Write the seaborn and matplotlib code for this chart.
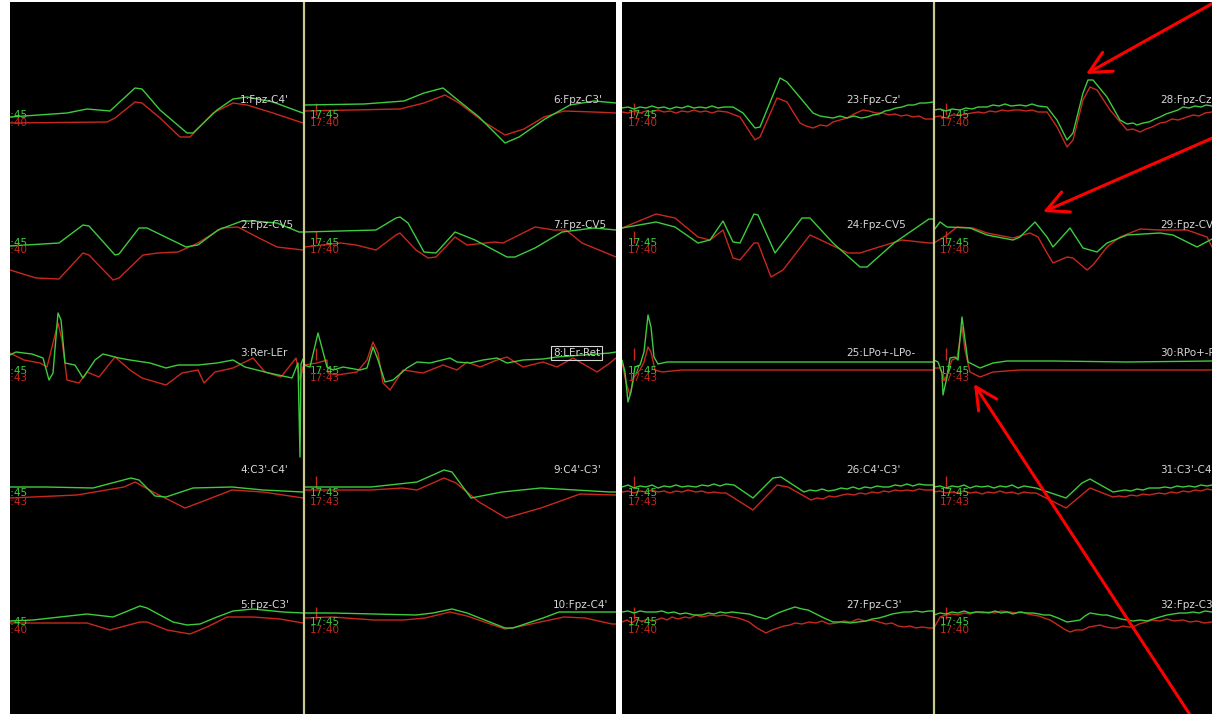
import matplotlib
matplotlib.use("Agg")
import matplotlib.pyplot as plt
import seaborn as sns

sns.set_theme(style="dark")
plt.rcParams['font.family'] = ['DejaVu Sans']

W, H = 1212, 714

# Каналы: подписи по столбцам
labels_a = ["1:Fpz-C4'", "2:Fpz-CV5", "3:Rer-LEr", "4:C3'-C4'", "5:Fpz-C3'"]
labels_b = ["6:Fpz-C3'", "7:Fpz-CV5", "8:LEr-Ret", "9:C4'-C3'", "10:Fpz-C4'"]
labels_c = ["23:Fpz-Cz'", "24:Fpz-CV5", "25:LPo+-LPo-", "26:C4'-C3'", "27:Fpz-C3'"]
labels_d = ["28:Fpz-Cz'", "29:Fpz-CV5", "30:RPo+-RPo-", "31:C3'-C4'", "32:Fpz-C3'"]
time_green = ["17:45", "17:45", "17:45", "17:45", "17:45"]
time_red = ["17:40", "17:40", "17:43", "17:43", "17:40"]

# Кривые: (время в отсчётах окна, амплитуда); green = текущая, red = эталон
a1_green = [(18, 0), (75, 4), (95, 8), (118, 6), (143, 29), (150, 28), (168, 7), (195, -16), (201, -16),
            (225, 7), (241, 18), (255, 20), (281, 15), (308, 5), (311, 4)]
a1_red = [(18, -6), (115, -5), (123, -1), (143, 15), (150, 14), (168, -1), (188, -20), (198, -20), (221, 4),
          (241, 14), (255, 12), (281, 4), (311, -6)]
a2_green = [(18, -1), (67, 2), (91, 20), (97, 19), (123, -10), (127, -9), (147, 17), (155, 17), (194, -2),
            (206, 0), (226, 15), (250, 24), (261, 24), (285, 22), (307, 13), (311, 13)]
a2_red = [(18, -25), (44, -33), (67, -34), (91, -8), (97, -10), (121, -35), (127, -33), (151, -10), (166, -8),
          (186, -7), (206, 2), (230, 17), (246, 18), (265, 8), (285, -2), (311, -5)]
a3_green = [(18, 7), (24, 10), (40, 8), (51, 4), (57, -18), (61, -11), (66, 49), (69, 42), (73, -1), (83, -3),
            (91, -16), (103, 2), (111, 8), (127, 4), (138, 2), (158, -1), (174, -6), (186, -3), (206, -3),
            (225, -1), (241, 2), (253, -5), (277, -11), (300, -16), (306, -1), (308, -95), (309, -2), (311, 3)]
a3_red = [(18, 9), (32, 2), (48, -1), (55, -5), (66, 39), (70, 22), (75, -18), (87, -21), (95, -10), (107, -15),
          (123, 5), (138, -8), (150, -16), (174, -23), (190, -11), (206, -8), (212, -21), (223, -10), (241, -6),
          (261, 4), (273, -10), (289, -15), (304, 4), (308, -18), (311, -5)]
a4_green = [(18, 3), (54, 3), (101, 2), (139, 12), (147, 10), (163, -6), (174, -7), (201, 2), (240, 3),
            (271, 0), (311, -2)]
a4_red = [(18, -8), (85, -5), (132, 3), (143, 8), (163, -3), (193, -18), (209, -12), (240, 0), (271, -2),
          (311, -8)]
a5_green = [(18, 0), (41, 1), (68, 4), (95, 7), (121, 4), (148, 15), (155, 13), (181, -1), (195, -4),
            (208, -3), (225, 4), (241, 10), (261, 12), (291, 9), (311, 8)]
a5_red = [(18, -2), (95, -2), (118, -9), (148, -1), (155, -1), (175, -9), (198, -13), (215, -6), (235, 4),
          (261, 4), (288, 2), (311, -2)]

b1_green = [(0, 12), (60, 13), (100, 16), (120, 24), (139, 29), (150, 20), (175, 0), (201, -26), (215, -20),
            (241, -2), (266, 12), (290, 16), (312, 14)]
b1_red = [(0, 6), (96, 8), (120, 14), (141, 22), (155, 14), (180, -5), (201, -18), (220, -12), (240, 0),
          (260, 6), (290, 5), (312, 4)]
b2_green = [(0, 13), (72, 15), (92, 27), (96, 28), (104, 22), (120, -7), (132, -8), (151, 13), (171, 5),
            (203, -12), (211, -12), (231, -3), (258, 13), (290, 17), (312, 15)]
b2_red = [(0, -2), (37, 2), (52, 0), (72, -5), (92, 10), (96, 12), (112, -5), (124, -13), (132, -12),
          (151, 8), (163, 0), (191, 3), (199, 2), (231, 18), (250, 15), (262, 15), (278, 2), (312, -12)]
b3_green = [(0, -3), (6, -5), (14, 29), (18, 14), (23, -5), (29, -8), (39, -5), (56, -8), (63, -6), (69, 15),
            (74, 2), (81, -20), (89, -18), (103, -6), (113, 0), (126, -1), (146, 4), (153, 0), (166, -1),
            (179, 2), (193, 4), (203, -1), (219, 2), (239, 3), (253, 5), (306, 9), (312, 10)]
b3_red = [(0, -3), (13, -1), (23, 2), (24, -11), (33, -13), (53, -10), (63, 2), (69, 20), (74, 9), (79, -21),
          (86, -28), (99, -8), (119, -11), (139, -3), (153, -8), (163, 0), (176, -5), (193, 2), (203, 5),
          (219, -5), (239, 0), (253, -5), (269, 4), (293, -10), (306, -1), (312, 4)]
b4_green = [(0, 3), (67, 3), (113, 8), (140, 20), (148, 18), (167, -8), (198, -2), (237, 2), (306, -2), (312, -2)]
b4_red = [(0, 0), (67, 0), (98, 2), (113, 0), (140, 12), (152, 7), (175, -12), (202, -28), (237, -18),
          (276, -4), (312, -5)]
b5_green = [(0, 8), (28, 8), (112, 6), (129, 8), (148, 12), (163, 8), (201, -7), (209, -7), (239, 3),
            (255, 9), (306, 9), (312, 9)]
b5_red = [(0, 3), (28, 4), (70, 1), (100, 1), (121, 3), (146, 9), (163, 5), (201, -8), (213, -6), (260, 4),
          (281, 3), (308, -3), (312, -3)]

c1_green = [(0, 9), (6, 10), (12, 8), (18, 10), (24, 9), (30, 11), (36, 9), (42, 10), (48, 8), (54, 10),
            (60, 9), (66, 11), (72, 9), (78, 10), (84, 9), (90, 11), (96, 9), (102, 10), (111, 10), (121, 4),
            (133, -11), (138, -10), (158, 39), (165, 35), (191, 4), (198, 1), (204, 0), (211, -1), (218, 1),
            (225, -1), (232, 1), (239, -1), (245, 0), (251, 2), (257, 3), (263, 6), (268, 7), (274, 9),
            (280, 10), (286, 12), (292, 12), (298, 14), (304, 14), (311, 15)]
c1_red = [(0, 5), (6, 4), (12, 6), (18, 4), (24, 6), (30, 5), (36, 7), (42, 5), (48, 6), (54, 4), (60, 6),
          (66, 5), (72, 7), (78, 5), (84, 6), (90, 4), (96, 6), (105, 5), (118, 0), (133, -23), (138, -20),
          (155, 19), (165, 15), (178, -6), (184, -9), (191, -11), (198, -8), (205, -9), (211, -5), (218, -3),
          (225, -1), (232, 3), (241, 7), (247, 6), (254, 4), (261, 4), (267, 2), (273, 3), (279, 1), (285, 2),
          (291, 0), (297, 1), (303, -2), (311, -2)]
c2_green = [(0, 17), (34, 23), (53, 18), (76, 2), (88, 5), (101, 24), (111, 3), (118, 2), (132, 31),
            (136, 30), (153, -8), (180, 27), (188, 27), (211, 2), (238, -22), (245, -22), (272, 2),
            (307, 26), (311, 26)]
c2_red = [(0, 17), (34, 31), (53, 27), (76, 8), (88, 5), (101, 15), (111, -13), (118, -15), (132, 2),
          (136, 2), (149, -32), (161, -25), (188, 10), (203, 3), (226, -8), (238, -8), (257, -2), (280, 5),
          (307, 2), (311, 2)]
c3_green = [(0, 2), (3, -10), (6, -40), (9, -30), (13, -5), (18, -3), (22, 10), (26, 47), (29, 35), (32, 5),
            (36, -2), (45, 0), (311, 0)]
c3_red = [(0, 0), (4, -20), (8, -33), (12, -15), (18, -8), (22, 0), (26, 15), (29, 10), (33, -8), (40, -10),
          (60, -8), (311, -8)]
c4_green = [(0, 3), (6, 5), (12, 2), (18, 4), (24, 3), (30, 5), (36, 2), (42, 4), (48, 3), (54, 5), (60, 3),
            (66, 4), (74, 3), (80, 5), (86, 4), (92, 6), (98, 4), (104, 6), (112, 5), (131, -8), (151, 12),
            (159, 13), (182, -2), (188, 0), (194, -1), (200, 1), (206, -1), (213, 0), (219, 2), (225, 1),
            (231, 3), (237, 1), (243, 3), (249, 2), (255, 4), (261, 3), (267, 3), (273, 5), (279, 4), (285, 6),
            (291, 4), (297, 6), (303, 5), (311, 5)]
c4_red = [(0, -2), (6, -1), (12, -3), (18, -1), (24, -2), (30, 0), (36, -2), (42, -1), (48, -3), (54, -1),
          (60, -2), (66, 0), (74, -2), (80, -1), (86, -3), (92, -2), (98, -3), (104, -3), (131, -20), (155, 5),
          (166, 3), (189, -10), (195, -8), (201, -9), (207, -6), (213, -7), (220, -5), (226, -4), (232, -5),
          (238, -3), (244, -4), (250, -2), (256, -3), (262, -1), (267, -2), (273, 0), (279, -1), (285, 0),
          (291, -1), (297, 1), (303, 0), (311, 0)]
c5_green = [(0, 9), (6, 10), (12, 8), (18, 10), (24, 9), (34, 9), (40, 10), (46, 8), (52, 9), (58, 7), (64, 8),
            (72, 6), (80, 6), (86, 8), (92, 7), (98, 9), (104, 8), (110, 9), (118, 8), (127, 7), (136, 4),
            (144, 2), (150, 5), (156, 8), (164, 11), (173, 14), (180, 12), (186, 11), (194, 7), (202, 3),
            (211, -1), (220, -1), (228, -2), (236, -1), (244, 0), (250, 2), (257, 3), (264, 5), (270, 7),
            (276, 8), (282, 9), (288, 9), (294, 10), (300, 9), (307, 10), (311, 10)]
c5_red = [(0, -1), (5, 1), (10, -2), (15, 2), (20, -1), (25, 2), (30, 0), (34, 1), (40, 3), (45, 1), (50, 4),
          (56, 2), (63, 4), (68, 3), (74, 6), (80, 4), (89, 6), (95, 5), (102, 6), (110, 4), (116, 3), (122, 1),
          (127, -1), (135, -7), (144, -12), (150, -9), (156, -7), (162, -5), (168, -4), (173, -2), (180, -3),
          (187, -1), (194, -2), (200, 0), (207, -3), (215, -2), (222, 0), (229, -1), (236, 2), (243, 0),
          (250, 1), (257, -1), (264, -3), (270, -2), (276, -5), (282, -6), (288, -5), (294, -7), (300, -6),
          (307, -7), (311, -7)]

d1_green = [(0, 7), (6, 8), (12, 6), (18, 8), (26, 7), (32, 9), (38, 8), (44, 10), (53, 10), (59, 12), (65, 11),
            (71, 13), (77, 11), (86, 12), (92, 11), (98, 13), (104, 11), (113, 10), (123, -3), (133, -23),
            (139, -16), (149, 24), (154, 37), (159, 37), (173, 20), (186, -3), (193, -7), (199, -6), (203, -8),
            (209, -6), (215, -5), (221, -2), (226, 0), (232, 3), (238, 5), (244, 7), (249, 10), (255, 9),
            (261, 11), (267, 10), (272, 12), (278, 11)]
d1_red = [(0, 0), (6, 1), (12, -1), (18, 2), (26, 2), (32, 3), (38, 4), (44, 5), (50, 4), (56, 6), (62, 5),
          (68, 7), (74, 6), (80, 7), (86, 7), (92, 6), (98, 7), (104, 5), (113, 5), (123, -10), (133, -30),
          (139, -23), (149, 17), (156, 30), (163, 27), (176, 7), (193, -13), (199, -12), (206, -15), (212, -12),
          (218, -10), (226, -6), (232, -5), (238, -2), (244, -3), (253, 0), (259, 2), (265, 1), (271, 4),
          (278, 5)]
d2_green = [(0, 15), (6, 23), (13, 18), (36, 17), (53, 10), (79, 5), (86, 8), (101, 23), (113, 8), (119, -2),
            (136, 17), (149, -3), (163, -7), (173, 2), (193, 10), (226, 12), (239, 10), (263, -2), (278, 6)]
d2_red = [(0, 2), (13, 10), (23, 18), (39, 17), (53, 12), (79, 7), (96, 12), (104, 8), (113, -8), (119, -18),
          (133, -12), (139, -13), (153, -25), (159, -20), (173, -2), (186, 8), (206, 16), (226, 15),
          (253, 15), (273, 8), (278, -2)]
d3_green = [(0, 2), (4, 0), (8, -11), (9, -33), (13, -15), (16, 4), (21, 5), (24, 2), (28, 45), (31, 22),
            (34, 0), (46, -6), (59, -1), (73, 1), (119, 1), (193, 0), (278, 1)]
d3_red = [(0, -6), (6, -6), (11, -18), (18, 2), (23, 4), (28, 35), (31, 12), (36, -10), (46, -15), (59, -10),
          (86, -8), (278, -8)]
d4_green = [(0, 3), (6, 4), (12, 2), (18, 4), (24, 3), (30, 5), (36, 2), (42, 4), (48, 3), (54, 4), (60, 2),
            (66, 4), (72, 3), (78, 5), (84, 2), (90, 4), (96, 3), (102, 2), (132, -8), (148, 7), (156, 11),
            (179, -2), (185, -1), (191, 0), (197, -1), (203, 1), (209, 0), (215, 2), (225, 2), (231, 3),
            (237, 2), (243, 4), (249, 3), (255, 4), (261, 3), (267, 5), (273, 4), (278, 5)]
d4_red = [(0, -2), (6, -1), (12, -3), (18, -2), (24, -3), (30, -1), (36, -3), (42, -2), (48, -4), (54, -2),
          (60, -3), (66, -1), (72, -3), (78, -2), (84, -4), (90, -2), (96, -3), (102, -3), (132, -18), (156, 2),
          (179, -7), (185, -6), (191, -7), (197, -5), (203, -6), (209, -4), (215, -5), (225, -3), (231, -4),
          (237, -2), (243, -3), (249, -1), (255, -2), (261, 0), (267, -1), (273, 1), (278, 0)]
d5_green = [(0, 6), (6, 8), (12, 7), (18, 9), (24, 8), (30, 10), (36, 8), (42, 9), (49, 9), (55, 8), (61, 10),
            (67, 8), (73, 9), (79, 7), (85, 9), (92, 8), (99, 8), (105, 7), (110, 6), (116, 6), (124, 3),
            (133, -1), (140, 0), (146, 1), (151, 5), (156, 8), (162, 7), (168, 6), (173, 6), (180, 4), (187, 2),
            (193, 1), (199, 0), (206, 1), (213, 0), (219, 2), (226, 4), (233, 6), (239, 7), (246, 8), (253, 8),
            (259, 9), (265, 8), (271, 10), (278, 9)]
d5_red = [(0, -7), (6, 4), (12, 6), (18, 7), (24, 6), (30, 8), (36, 7), (42, 9), (49, 8), (55, 9), (61, 8),
          (67, 10), (76, 9), (82, 8), (88, 9), (94, 7), (99, 6), (105, 5), (110, 3), (116, 1), (124, -4),
          (130, -8), (136, -11), (142, -9), (149, -9), (155, -6), (161, -5), (166, -4), (172, -6), (178, -7),
          (183, -7), (189, -5), (194, -6), (199, -6), (205, -3), (212, -1), (219, 1), (226, 0), (233, 2),
          (240, 0), (249, 1), (256, -1), (263, 0), (270, -2), (278, -1)]

# Раскладка экрана (пиксели)
row_base = [117, 245, 362, 490, 621]
label_y = [100, 225, 353, 470, 605]
green_time_y = [115, 243, 371, 493, 622]
red_time_y = [123, 250, 378, 502, 630]

GREEN = '#3dcc3d'
RED = '#c8281e'
TXT = '#d6d6d6'
OLIVE = '#c8c88c'

columns = [
    dict(left=10, width=293, xlim=(18, 311), label_x=248, labels=labels_a,
         traces=[(a1_green, a1_red), (a2_green, a2_red), (a3_green, a3_red), (a4_green, a4_red), (a5_green, a5_red)]),
    dict(left=304, width=312, xlim=(0, 312), label_x=249, labels=labels_b,
         traces=[(b1_green, b1_red), (b2_green, b2_red), (b3_green, b3_red), (b4_green, b4_red), (b5_green, b5_red)]),
    dict(left=622, width=311, xlim=(0, 311), label_x=224, labels=labels_c,
         traces=[(c1_green, c1_red), (c2_green, c2_red), (c3_green, c3_red), (c4_green, c4_red), (c5_green, c5_red)]),
    dict(left=934, width=278, xlim=(0, 278), label_x=226, labels=labels_d,
         traces=[(d1_green, d1_red), (d2_green, d2_red), (d3_green, d3_red), (d4_green, d4_red), (d5_green, d5_red)]),
]


def draw_trace(ax, pts, base, color):
    t = [p[0] for p in pts]
    y = [base - p[1] for p in pts]
    sns.lineplot(x=t, y=y, ax=ax, color=color, linewidth=1.0, sort=False,
                 estimator=None, legend=False)


fig = plt.figure(figsize=(W / 100, H / 100), dpi=100, facecolor='white')

for col in columns:
    ax = fig.add_axes([col['left'] / W, 0, col['width'] / W, (H - 2) / H])
    ax.set_facecolor('black')
    for row, (g, r) in enumerate(col['traces']):
        base = row_base[row]
        # маркер и время записи
        ax.vlines(12, base - 14, base - 2, color=RED, lw=1.0)
        ax.text(6, green_time_y[row], time_green[row], color=GREEN, fontsize=7.5,
                va='center', ha='left', clip_on=True)
        ax.text(6, red_time_y[row], time_red[row], color=RED, fontsize=7.5,
                va='center', ha='left', clip_on=True)
        draw_trace(ax, r, base, RED)
        draw_trace(ax, g, base, GREEN)
        box = None
        if col['labels'][row] == "8:LEr-Ret":
            box = dict(facecolor='none', edgecolor=TXT, linewidth=0.8, pad=1.5)
        ax.text(col['label_x'], label_y[row], col['labels'][row], color=TXT, fontsize=7.5,
                va='center', ha='left', clip_on=True, bbox=box)
    ax.set_xlim(*col['xlim'])
    ax.set_ylim(H, 2)
    ax.set_xticks([])
    ax.set_yticks([])
    ax.set_xlabel('')
    ax.set_ylabel('')
    for s in ax.spines.values():
        s.set_visible(False)

# Оверлей: разделители и стрелки
ov = fig.add_axes([0, 0, 1, 1], zorder=10)
ov.set_xlim(0, W)
ov.set_ylim(H, 0)
ov.axis('off')
ov.patch.set_alpha(0)
ov.vlines([303.5, 933.5], 2, H, color=OLIVE, lw=1.6)

arrows = [((1240, -12), (1086, 74)), ((1240, 126), (1043, 212)), ((1196, 724), (974, 384))]
for tail, tip in arrows:
    ov.annotate('', xy=tip, xytext=tail, annotation_clip=False,
                arrowprops=dict(arrowstyle='->,head_length=1.3,head_width=0.65', color='#ff0000', lw=2.2,
                                shrinkA=0, shrinkB=0))

fig.savefig('out.png', dpi=100, facecolor='white')
